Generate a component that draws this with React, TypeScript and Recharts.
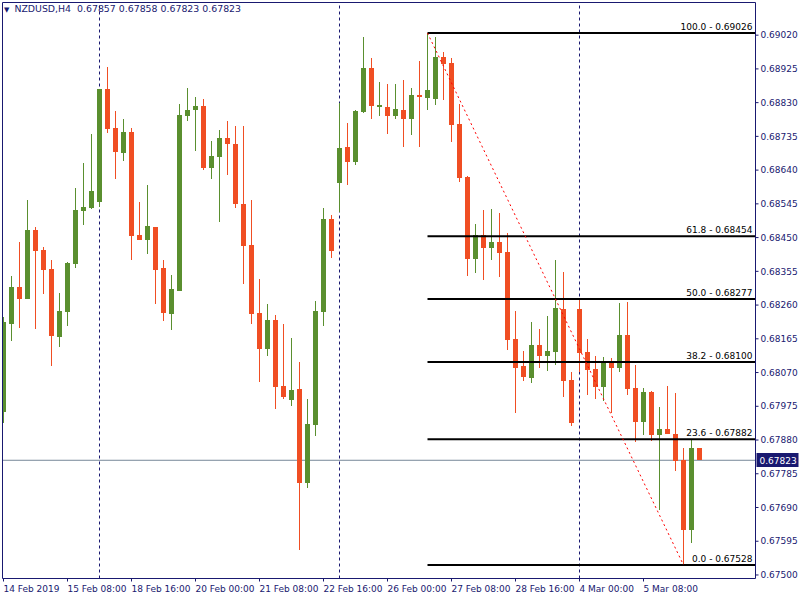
import React from 'react';
import { ComposedChart, Bar, XAxis, YAxis, ReferenceLine } from 'recharts';

// NZDUSD H4 candles, left to right
const opens = [
  0.67959, 0.68207, 0.68311, 0.68277, 0.68471, 0.68415, 0.68362, 0.68170, 0.68240, 0.68376,
  0.68525, 0.68533, 0.68550, 0.68868, 0.68759, 0.68688, 0.68747, 0.68457, 0.68443, 0.68480,
  0.68364, 0.68235, 0.68300, 0.68792, 0.68809, 0.68821, 0.68646, 0.68677, 0.68730, 0.68714,
  0.68545, 0.68429, 0.68238, 0.68136, 0.68218, 0.68032, 0.67993, 0.68024, 0.67759, 0.67922,
  0.68240, 0.68502, 0.68604, 0.68705, 0.68663, 0.68804, 0.68928, 0.68818, 0.68818, 0.68792,
  0.68809, 0.68784, 0.68851, 0.68843, 0.68840, 0.68958, 0.68942, 0.68770, 0.68621, 0.68390,
  0.68457, 0.68421, 0.68438, 0.68409, 0.68164, 0.68088, 0.68055, 0.68148, 0.68117, 0.68128,
  0.68249, 0.68049, 0.68249, 0.68128, 0.68080, 0.68029, 0.68102, 0.68083, 0.68176, 0.68026,
  0.67931, 0.68015, 0.67894, 0.67911, 0.67897, 0.67823, 0.67627, 0.67857,
];
const highs = [
  0.68226, 0.68342, 0.68438, 0.68556, 0.68480, 0.68423, 0.68387, 0.68294, 0.68381, 0.68590,
  0.68660, 0.68742, 0.68868, 0.68930, 0.68806, 0.68784, 0.68759, 0.68550, 0.68598, 0.68480,
  0.68387, 0.68345, 0.68826, 0.68871, 0.68846, 0.68840, 0.68722, 0.68753, 0.68778, 0.68764,
  0.68764, 0.68556, 0.68333, 0.68263, 0.68232, 0.68207, 0.68167, 0.68100, 0.67995, 0.68271,
  0.68533, 0.68514, 0.68829, 0.68773, 0.68809, 0.69015, 0.68956, 0.68888, 0.68882, 0.68882,
  0.68894, 0.68871, 0.68947, 0.69026, 0.69015, 0.68973, 0.68956, 0.68826, 0.68623, 0.68488,
  0.68528, 0.68530, 0.68519, 0.68463, 0.68243, 0.68131, 0.68212, 0.68193, 0.68229, 0.68387,
  0.68353, 0.68071, 0.68274, 0.68164, 0.68117, 0.68114, 0.68111, 0.68266, 0.68269, 0.68091,
  0.68026, 0.68018, 0.67973, 0.68032, 0.68012, 0.67857, 0.67880, 0.67858,
];
const lows = [
  0.67928, 0.68159, 0.68195, 0.68277, 0.68193, 0.68291, 0.68088, 0.68142, 0.68201, 0.68364,
  0.68485, 0.68530, 0.68536, 0.68745, 0.68615, 0.68666, 0.68387, 0.68443, 0.68404, 0.68263,
  0.68215, 0.68190, 0.68300, 0.68778, 0.68694, 0.68640, 0.68615, 0.68494, 0.68626, 0.68533,
  0.68319, 0.68207, 0.68043, 0.68117, 0.67967, 0.67995, 0.67976, 0.67570, 0.67745, 0.67891,
  0.68201, 0.68392, 0.68522, 0.68598, 0.68654, 0.68801, 0.68784, 0.68792, 0.68742, 0.68784,
  0.68705, 0.68739, 0.68705, 0.68809, 0.68823, 0.68837, 0.68719, 0.68607, 0.68342, 0.68350,
  0.68331, 0.68387, 0.68339, 0.68133, 0.67956, 0.68046, 0.68041, 0.68083, 0.68074, 0.68091,
  0.68001, 0.67919, 0.68071, 0.68007, 0.67995, 0.67990, 0.67956, 0.68071, 0.68007, 0.67874,
  0.67894, 0.67877, 0.67683, 0.67897, 0.67793, 0.67528, 0.67590, 0.67823,
];
const closes = [
  0.68212, 0.68311, 0.68277, 0.68471, 0.68412, 0.68359, 0.68173, 0.68243, 0.68378, 0.68528,
  0.68536, 0.68581, 0.68868, 0.68756, 0.68691, 0.68747, 0.68454, 0.68443, 0.68483, 0.68359,
  0.68238, 0.68305, 0.68795, 0.68809, 0.68821, 0.68646, 0.68680, 0.68730, 0.68714, 0.68545,
  0.68426, 0.68235, 0.68136, 0.68218, 0.68029, 0.68001, 0.68021, 0.67759, 0.67925, 0.68243,
  0.68502, 0.68412, 0.68702, 0.68663, 0.68806, 0.68928, 0.68821, 0.68823, 0.68792, 0.68812,
  0.68784, 0.68851, 0.68846, 0.68866, 0.68958, 0.68939, 0.68767, 0.68618, 0.68390, 0.68457,
  0.68421, 0.68438, 0.68407, 0.68162, 0.68083, 0.68057, 0.68148, 0.68117, 0.68131, 0.68252,
  0.68046, 0.67928, 0.68125, 0.68077, 0.68029, 0.68102, 0.68083, 0.68176, 0.68024, 0.67931,
  0.68015, 0.67894, 0.67911, 0.67897, 0.67821, 0.67627, 0.67857, 0.67823,
];

const timeTicks = [0, 8, 16, 24, 32, 40, 48, 56, 64, 72, 80];
const timeLabels = [
  '14 Feb 2019', '15 Feb 08:00', '18 Feb 16:00', '20 Feb 00:00', '21 Feb 08:00', '22 Feb 16:00',
  '26 Feb 00:00', '27 Feb 08:00', '28 Feb 16:00', '4 Mar 00:00', '5 Mar 08:00',
];
const priceTicks = [
  0.69020, 0.68925, 0.68830, 0.68735, 0.68640, 0.68545, 0.68450, 0.68355, 0.68260,
  0.68165, 0.68070, 0.67975, 0.67880, 0.67785, 0.67690, 0.67595, 0.67500,
];
const weekSeparators = [12, 42, 72];

const fibLevels = ['100.0', '61.8', '50.0', '38.2', '23.6', '0.0'];
const fibPrices = [0.69026, 0.68454, 0.68277, 0.68100, 0.67882, 0.67528];
const fibStart = 53;
const fibEnd = 85;
const lastPrice = 0.67823;

const X_MIN = -0.125;
const X_MAX = 94;
const Y_MIN = 0.6749008;
const Y_MAX = 0.6911196;

const NAVY = '#191970';
const GREEN = '#5a8f2f';
const RED = '#f04e23';
const FONT = 'DejaVu Sans, sans-serif';

const data = opens.map((o, i) => ({
  idx: i,
  open: o,
  high: highs[i],
  low: lows[i],
  close: closes[i],
  range: [lows[i], highs[i]],
}));

const Candle = (props: any) => {
  const { x, y, width, height, payload } = props;
  if (!payload) return null;
  const { open, close, high, low } = payload;
  const top = Math.min(y, y + height);
  const h = Math.abs(height);
  const ratio = h / (high - low);
  const cx = Math.floor(x + width / 2);
  const yo = top + (high - open) * ratio;
  const yc = top + (high - close) * ratio;
  const bTop = Math.round(Math.min(yo, yc));
  const bBot = Math.round(Math.max(yo, yc));
  const color = close >= open ? GREEN : RED;
  const wTop = Math.round(top);
  const wBot = Math.round(top + h);
  return (
    <g>
      <rect x={cx} y={wTop} width={1} height={Math.max(1, wBot - wTop)} fill={color} />
      <rect x={cx - 2} y={bTop} width={5} height={Math.max(1, bBot - bTop)} fill={color} />
    </g>
  );
};

const TimeTick = (props: any) => {
  const { x, y, payload } = props;
  const i = timeTicks.indexOf(payload.value);
  return (
    <text x={x} y={y + 8} textAnchor="start" fill={NAVY} fontSize={9} fontFamily={FONT}>
      {timeLabels[i]}
    </text>
  );
};

const FibLabel = ({ viewBox, text }: any) => {
  const right = viewBox.x + viewBox.width - 3;
  const y = viewBox.y;
  return (
    <text x={right} y={y - 3} textAnchor="end" fill="#000" fontSize={9} fontFamily={FONT}>
      {text}
    </text>
  );
};

const PriceBox = ({ viewBox }: any) => {
  const x = viewBox.x + viewBox.width;
  const y = Math.round(viewBox.y);
  return (
    <g>
      <rect x={x + 1} y={y - 7} width={42} height={14} fill={NAVY} />
      <text x={x + 4} y={y + 3.5} fill="#fff" fontSize={9} fontFamily={FONT}>
        {lastPrice.toFixed(5)}
      </text>
    </g>
  );
};

export default function App() {
  return (
    <div style={{ position: 'absolute', left: 0, top: 0, width: 800, height: 600, background: '#fff' }}>
      <ComposedChart
        width={800}
        height={600}
        data={data}
        margin={{ top: 2.5, right: 0, left: 2.5, bottom: 0 }}
      >
        <XAxis
          dataKey="idx"
          type="number"
          domain={[X_MIN, X_MAX]}
          allowDataOverflow
          ticks={timeTicks}
          tick={<TimeTick />}
          height={21.5}
          tickSize={3}
          axisLine={{ stroke: NAVY }}
          tickLine={{ stroke: NAVY }}
          interval={0}
        />
        <YAxis
          type="number"
          orientation="right"
          domain={[Y_MIN, Y_MAX]}
          allowDataOverflow
          ticks={priceTicks}
          interval={0}
          width={44.5}
          tickSize={3}
          tickMargin={2}
          axisLine={{ stroke: NAVY }}
          tickLine={{ stroke: NAVY }}
          tick={{ fill: NAVY, fontSize: 9, fontFamily: FONT }}
          tickFormatter={(v: number) => v.toFixed(5)}
        />
        <ReferenceLine y={Y_MAX} stroke={NAVY} ifOverflow="visible" />
        <ReferenceLine x={X_MIN} stroke={NAVY} ifOverflow="visible" />
        {weekSeparators.map((s) => (
          <ReferenceLine key={`sep-${s}`} x={s} stroke={NAVY} strokeDasharray="3 3" zIndex={100} />
        ))}
        <ReferenceLine y={lastPrice} stroke="#778899" zIndex={100} label={<PriceBox />} />
        {fibPrices.map((p, i) => (
          <ReferenceLine
            key={`fib-${i}`}
            segment={[{ x: fibStart, y: p }, { x: X_MAX, y: p }]}
            stroke="#000"
            strokeWidth={2}
            ifOverflow="visible"
          />
        ))}
        {fibPrices.map((p, i) => (
          <ReferenceLine
            key={`fibl-${i}`}
            y={p}
            stroke="none"
            label={<FibLabel text={`${fibLevels[i]} - ${p.toFixed(5)}`} />}
          />
        ))}
        <ReferenceLine
          segment={[{ x: fibStart, y: fibPrices[0] }, { x: fibEnd, y: fibPrices[5] }]}
          stroke="#ff0000"
          strokeDasharray="2 3"
        />
        <Bar dataKey="range" barSize={5} shape={<Candle />} isAnimationActive={false} />
      </ComposedChart>
      <div
        style={{
          position: 'absolute',
          left: 4,
          top: 3,
          fontFamily: FONT,
          fontSize: 9.4,
          color: NAVY,
          whiteSpace: 'pre',
          lineHeight: '12px',
        }}
      >
        <span style={{ fontSize: 7, marginRight: 5 }}>▼</span>
        {'NZDUSD,H4  0.67857 0.67858 0.67823 0.67823'}
      </div>
    </div>
  );
}
